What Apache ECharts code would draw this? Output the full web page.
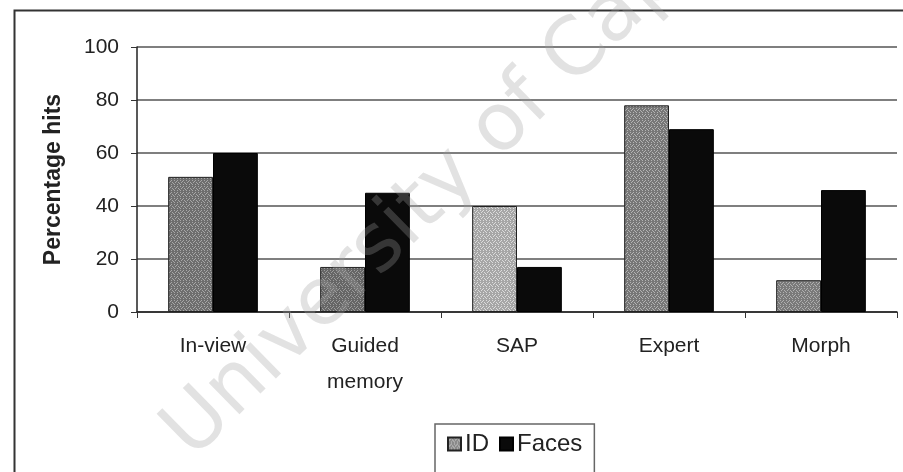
<!DOCTYPE html>
<html>
<head>
<meta charset="utf-8">
<script src="https://cdn.jsdelivr.net/npm/echarts@6/dist/echarts.min.js"></script>
<style>
html,body{margin:0;padding:0;background:#fff;}
#c{width:903px;height:472px;}
</style>
</head>
<body>
<div id="c"></div>
<script>
const categories = ['In-view', 'Guided\nmemory', 'SAP', 'Expert', 'Morph'];
const idValues = [51, 17, 40, 78, 12];
const facesValues = [60, 45, 17, 69, 46];
const seriesNames = ['ID', 'Faces'];
const watermarkText = 'University of Cape Town';

function makePattern(base, dot) {
  const cv = document.createElement('canvas');
  cv.width = 6; cv.height = 6;
  const ctx = cv.getContext('2d');
  ctx.fillStyle = base; ctx.fillRect(0, 0, 6, 6);
  ctx.fillStyle = dot;
  [[0,0],[3,0],[1,2],[4,2],[0,4],[3,4],[2,1],[5,3]].forEach(p => ctx.fillRect(p[0], p[1], 1, 1));
  return { image: cv, repeat: 'repeat' };
}
const idTones = [['#6e6e6e','#a8a8a8'], ['#666','#9c9c9c'], ['#a6a6a6','#dcdcdc'], ['#777','#b4b4b4'], ['#7a7a7a','#b0b0b0']];

const chart = echarts.init(document.getElementById('c'), null, {renderer: 'canvas'});
const font = '"Liberation Sans", Arial, sans-serif';
chart.setOption({
  animation: false,
  backgroundColor: '#fff',
  grid: { left: 137, right: 6, top: 47, bottom: 160, containLabel: false },
  xAxis: {
    type: 'category',
    data: categories,
    axisLine: { lineStyle: { color: '#222', width: 1.5 } },
    axisTick: { show: true, length: 6, lineStyle: { color: '#333' } },
    axisLabel: { color: '#222', fontFamily: font, fontSize: 21, margin: 16, lineHeight: 36 },
  },
  yAxis: {
    type: 'value', min: 0, max: 100, interval: 20,
    name: 'Percentage hits', nameLocation: 'middle', nameGap: 72,
    nameTextStyle: { color: '#222', fontFamily: font, fontSize: 23, fontWeight: 'bold' },
    axisLine: { show: true, lineStyle: { color: '#222', width: 1.5 } },
    axisTick: { show: true, length: 6, lineStyle: { color: '#333' } },
    axisLabel: { color: '#222', fontFamily: font, fontSize: 21, margin: 18 },
    splitLine: { lineStyle: { color: '#555', width: 1.5 } }
  },
  legend: {
    data: seriesNames,
    left: 435, top: 424,
    orient: 'horizontal',
    itemWidth: 13, itemHeight: 13, itemGap: 10,
    padding: [8, 12, 40, 12],
    borderColor: '#666', borderWidth: 1.5,
    textStyle: { color: '#222', fontFamily: font, fontSize: 24, padding: [0, 0, 0, -1] },
    icon: 'rect'
  },
  series: [
    {
      name: 'ID', type: 'bar', barGap: '0%', barCategoryGap: '41%',
      data: idValues.map((v, i) => ({ value: v, itemStyle: { color: makePattern(idTones[i][0], idTones[i][1]) } })),
      itemStyle: { color: makePattern('#8a8a8a', '#c8c8c8'), borderColor: '#222', borderWidth: 1 }
    },
    {
      name: 'Faces', type: 'bar',
      data: facesValues,
      itemStyle: { color: '#0a0a0a', borderColor: '#000', borderWidth: 1 }
    }
  ],
  graphic: [
    { type: 'rect', left: 12, top: 8, shape: { width: 1000, height: 600 }, style: { fill: 'none', stroke: '#333', lineWidth: 2 }, silent: true, z: 100 },
    { type: 'text', x: 206, y: 474, rotation: Math.PI * 0.247, style: { text: watermarkText, fontFamily: '"DejaVu Sans", sans-serif', fontSize: 80, verticalAlign: 'bottom', fill: 'rgba(160,160,160,0.3)' }, silent: true, z: 200, originX: 0, originY: 0 }
  ]
});
</script>
</body>
</html>
